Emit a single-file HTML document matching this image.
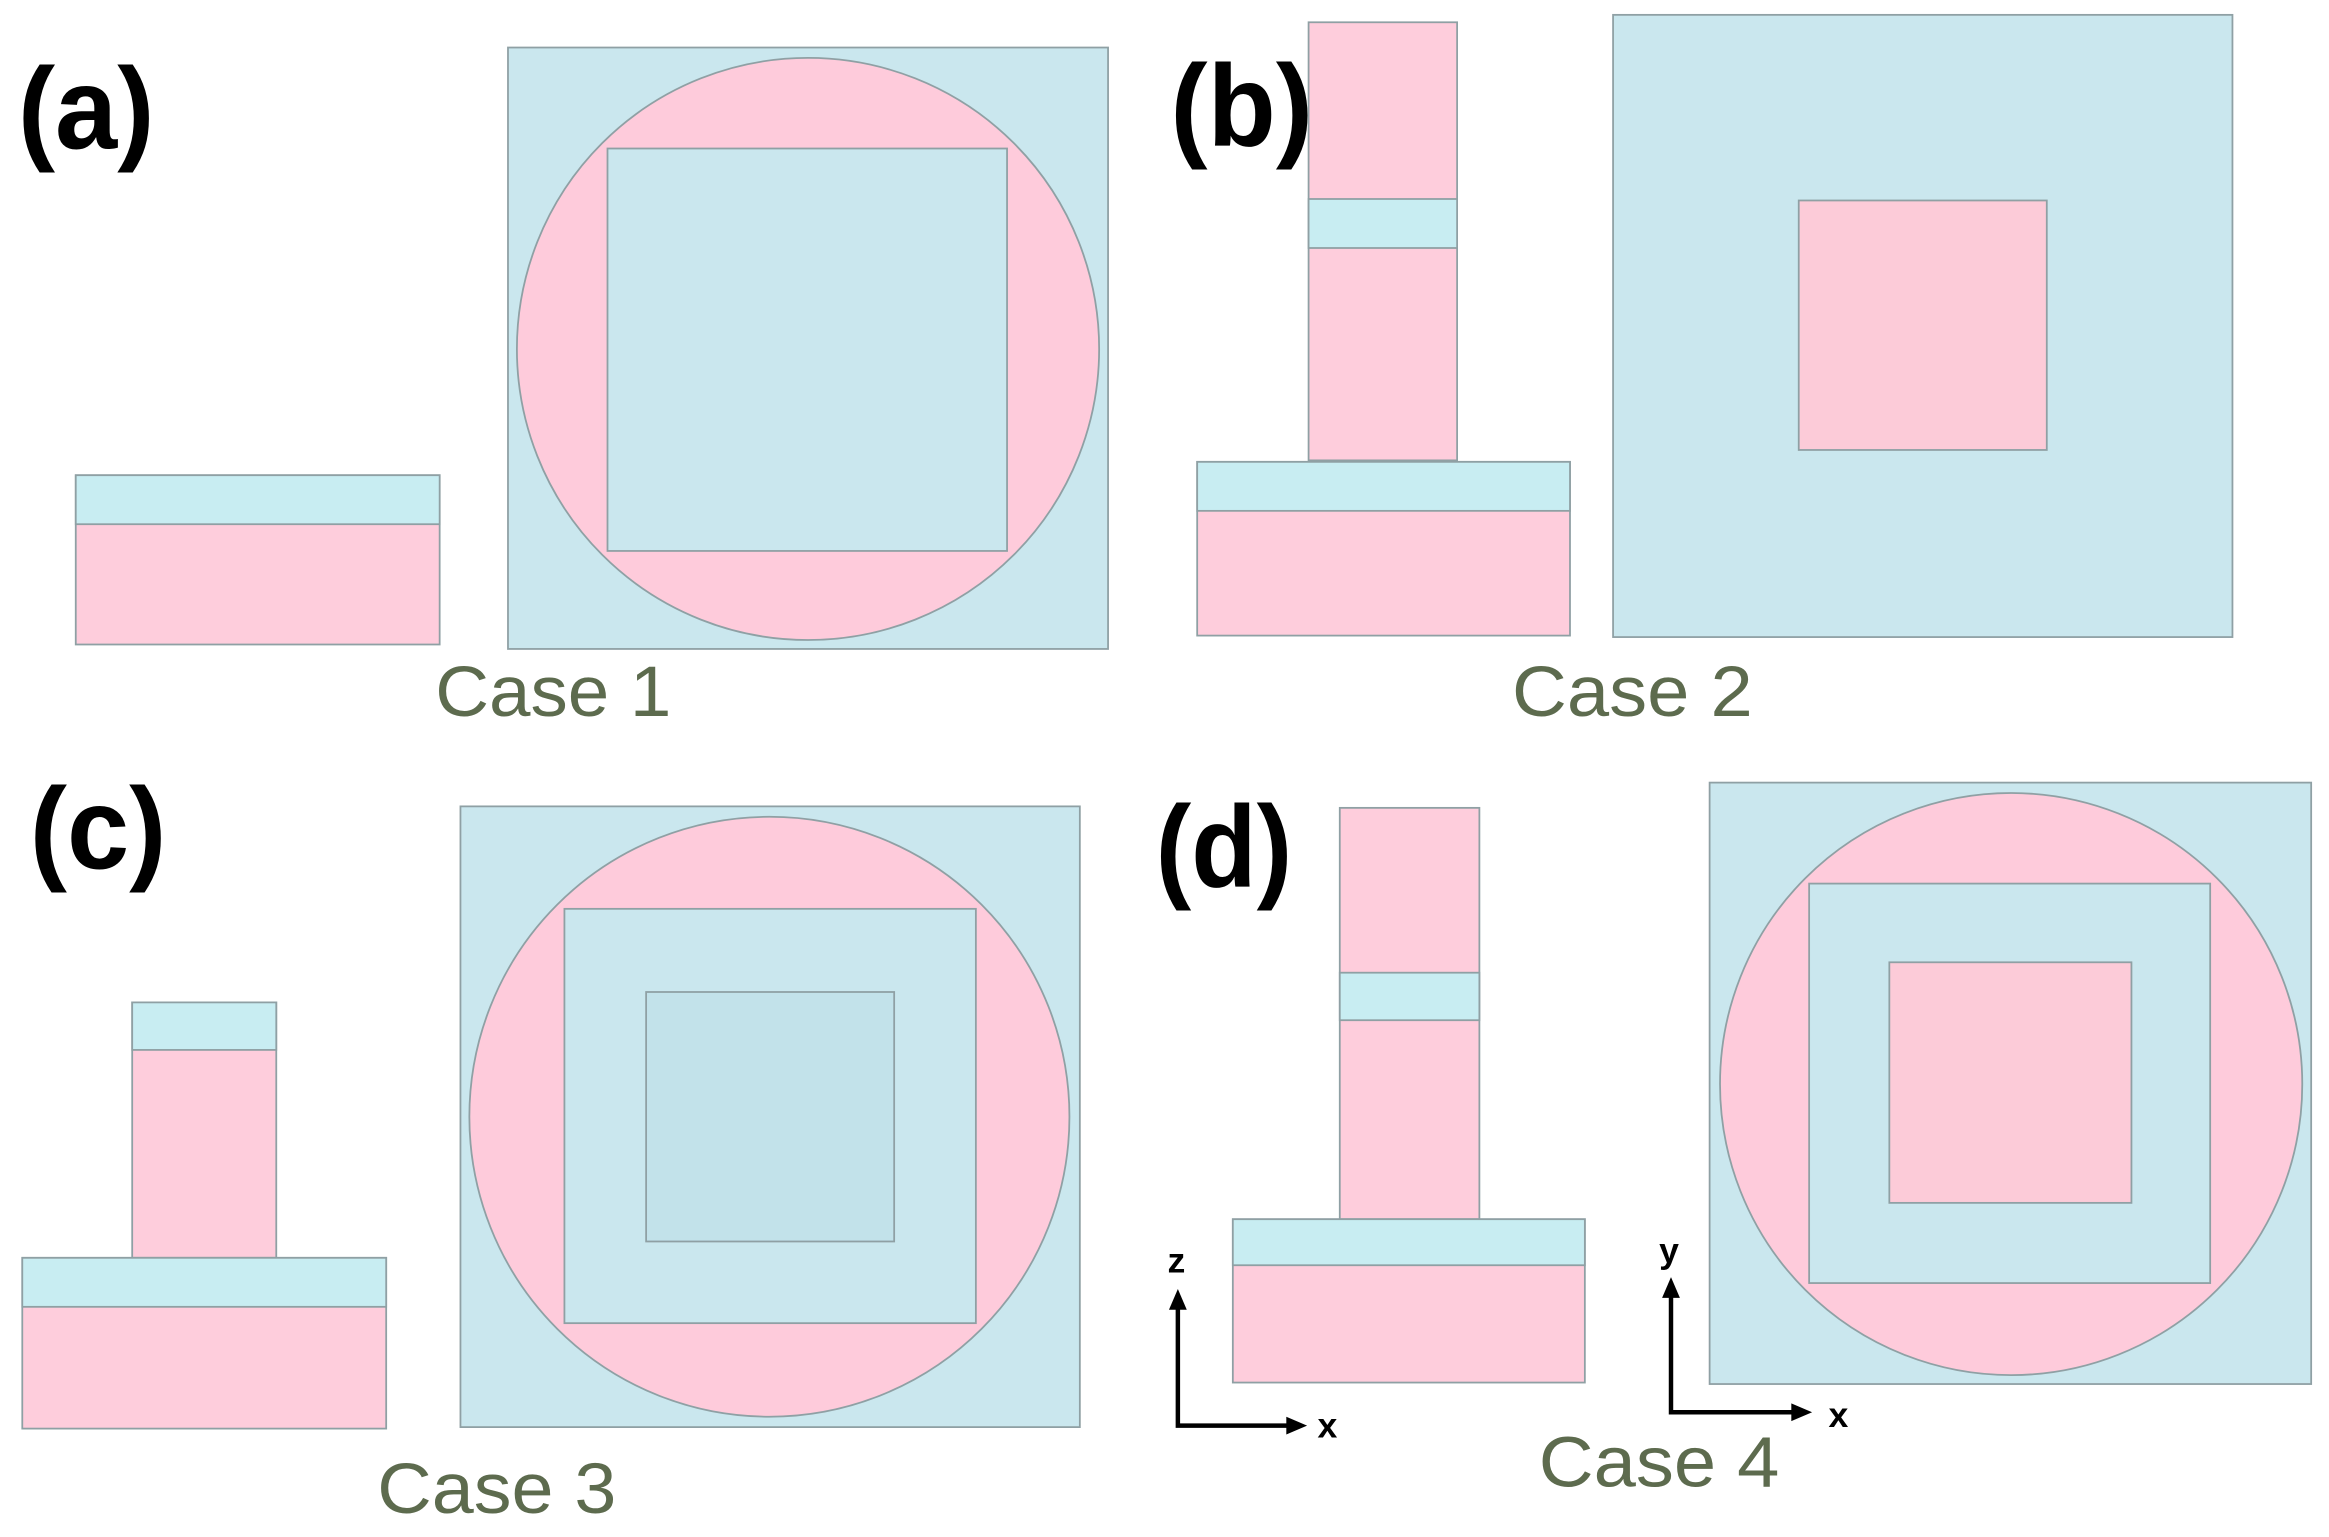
<!DOCTYPE html>
<html><head><style>html,body{margin:0;padding:0;background:#fff}svg{display:block}</style></head>
<body>
<svg width="2329" height="1537" viewBox="0 0 1568 1035" preserveAspectRatio="none" xmlns="http://www.w3.org/2000/svg">
<g stroke="#8fa0a4" stroke-width="1.2">
<!-- (a) -->
<rect x="51" y="320" width="245" height="114" fill="#fecddc"/>
<rect x="51" y="320" width="245" height="33" fill="#c8edf2"/>
<rect x="342" y="32" width="404" height="405" fill="#cae7ee"/>
<circle cx="544" cy="235" r="196" fill="#fecbdb"/>
<rect x="409" y="100" width="269" height="271" fill="#cae7ee"/>
<!-- (b) -->
<rect x="881" y="15" width="100" height="295" fill="#fecddc"/>
<rect x="881" y="134" width="100" height="33" fill="#c8edf2"/>
<rect x="806" y="311" width="251" height="117" fill="#fecddc"/>
<rect x="806" y="311" width="251" height="33" fill="#c8edf2"/>
<rect x="1086" y="10" width="417" height="419" fill="#cae7ee"/>
<rect x="1211" y="135" width="167" height="168" fill="#fccbd8"/>
<!-- (c) -->
<rect x="89" y="675" width="97" height="172" fill="#fecddc"/>
<rect x="89" y="675" width="97" height="32" fill="#c8edf2"/>
<rect x="15" y="847" width="245" height="115" fill="#fecddc"/>
<rect x="15" y="847" width="245" height="33" fill="#c8edf2"/>
<rect x="310" y="543" width="417" height="418" fill="#cae7ee"/>
<circle cx="518" cy="752" r="202" fill="#fecbdb"/>
<rect x="380" y="612" width="277" height="279" fill="#cae7ee"/>
<rect x="435" y="668" width="167" height="168" fill="#c2e2ea"/>
<!-- (d) -->
<rect x="902" y="544" width="94" height="277" fill="#fecddc"/>
<rect x="902" y="655" width="94" height="32" fill="#c8edf2"/>
<rect x="830" y="821" width="237" height="110" fill="#fecddc"/>
<rect x="830" y="821" width="237" height="31" fill="#c8edf2"/>
<rect x="1151" y="527" width="405" height="405" fill="#cae7ee"/>
<circle cx="1354" cy="730" r="196" fill="#fecbdb"/>
<rect x="1218" y="595" width="270" height="269" fill="#cae7ee"/>
<rect x="1272" y="648" width="163" height="162" fill="#fccbd8"/>
</g>
<!-- axes -->
<g stroke="#000" stroke-width="3" fill="none">
<polyline points="793,878 793,960 870,960"/>
<polyline points="1125,870 1125,951 1210,951"/>
</g>
<g fill="#000">
<polygon points="793,868 787,882 799,882"/>
<polygon points="880,960 866,954 866,966"/>
<polygon points="1125,860 1119,874 1131,874"/>
<polygon points="1220,951 1206,945 1206,957"/>
</g>
<g font-family="Liberation Sans, sans-serif" font-weight="bold" fill="#000">
<text x="12" y="100" font-size="78" textLength="92" lengthAdjust="spacingAndGlyphs">(a)</text>
<text x="788" y="98" font-size="78" textLength="96" lengthAdjust="spacingAndGlyphs">(b)</text>
<text x="20" y="585" font-size="78" textLength="92" lengthAdjust="spacingAndGlyphs">(c)</text>
<text x="778" y="597" font-size="78" textLength="92" lengthAdjust="spacingAndGlyphs">(d)</text>
<text x="786" y="857" font-size="24">z</text>
<text x="887" y="968" font-size="24">x</text>
<text x="1117" y="850" font-size="24">y</text>
<text x="1231" y="961" font-size="24">x</text>
</g>
<g font-family="Liberation Sans, sans-serif" font-size="48" fill="#5d6b4e">
<text x="293" y="482" textLength="159" lengthAdjust="spacingAndGlyphs">Case 1</text>
<text x="1018" y="482" textLength="162" lengthAdjust="spacingAndGlyphs">Case 2</text>
<text x="254" y="1019" textLength="161" lengthAdjust="spacingAndGlyphs">Case 3</text>
<text x="1036" y="1001" textLength="162" lengthAdjust="spacingAndGlyphs">Case 4</text>
</g>
</svg>
</body></html>
